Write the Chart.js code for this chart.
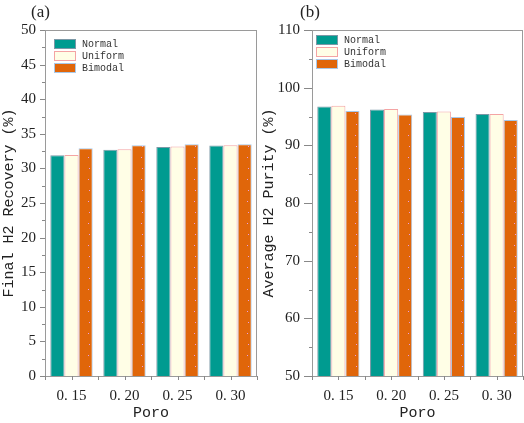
<!DOCTYPE html>
<html>
<head>
<meta charset="utf-8">
<script src="https://cdn.jsdelivr.net/npm/chart.js@4.4.1/dist/chart.umd.min.js"></script>
<style>
  html, body { margin: 0; padding: 0; background: #fff; }
  #wrap { position: relative; width: 524px; height: 423px; overflow: hidden; }
  .panel { position: absolute; top: 0; height: 423px; }
  .tag { position: absolute; top: 2px; font: 17px "Liberation Serif", serif; color: #222; }
</style>
</head>
<body>
<div id="wrap">
  <div class="panel" style="left:0;width:262px"><canvas id="chartA" width="262" height="423"></canvas></div>
  <div class="panel" style="left:260px;width:264px"><canvas id="chartB" width="264" height="423"></canvas></div>
  <div class="tag" style="left:31px">(a)</div>
  <div class="tag" style="left:300px">(b)</div>
</div>
<script>
// categories (porosity)
const poroLabels = ['0. 15', '0. 20', '0. 25', '0. 30'];
const seriesNames = ['Normal', 'Uniform', 'Bimodal'];

// (a) final H2 recovery, %
const recNormal  = [31.9, 32.7, 33.1, 33.3];
const recUniform = [31.95, 32.75, 33.15, 33.35];
const recBimodal = [32.9, 33.35, 33.5, 33.5];

// (b) average H2 purity, %
const purNormal  = [96.75, 96.2, 95.8, 95.45];
const purUniform = [96.85, 96.3, 95.85, 95.45];
const purBimodal = [95.95, 95.35, 94.9, 94.4];

const TEAL = '#009b90', CREAM = '#fffee6', ORANGE = '#e0660a';

// orange fill with sparse little pink dots
function dotPattern(dotX) {
  const c = document.createElement('canvas');
  c.width = 53; c.height = 22;
  const g = c.getContext('2d');
  g.fillStyle = ORANGE; g.fillRect(0, 0, 53, 22);
  g.fillStyle = '#e9a0e6';
  g.fillRect(dotX, 3, 1, 1);
  g.fillRect(dotX + 1, 14, 1, 1);
  return g.createPattern(c, 'repeat');
}

// box frame, outward ticks with minors, and the inset legend
const framePlugin = {
  id: 'frame',
  afterDatasetsDraw(chart, args, opts) {
    const { ctx, chartArea: a, scales: { x, y } } = chart;
    ctx.save();
    ctx.strokeStyle = '#9a9a9a';
    ctx.lineWidth = 1;
    ctx.strokeRect(Math.round(a.left) + 0.5, Math.round(a.top) + 0.5,
      Math.round(a.right - a.left) - 1, Math.round(a.bottom - a.top));
    ctx.strokeStyle = '#888';
    ctx.beginPath();
    for (let v = y.min; v <= y.max + 1e-9; v += opts.minor) {
      const py = Math.round(y.getPixelForValue(v)) + 0.5;
      const r = v / opts.major;
      const len = Math.abs(r - Math.round(r)) < 1e-6 ? opts.majorLen : 3;
      ctx.moveTo(a.left - len, py); ctx.lineTo(a.left, py);
    }
    const half = (a.right - a.left) / poroLabels.length / 2;
    poroLabels.forEach((_, i) => {
      const cx = x.getPixelForValue(i);
      [cx - half, cx, cx + half].forEach(px => {
        const p = Math.round(px) + 0.5;
        ctx.moveTo(p, a.bottom); ctx.lineTo(p, a.bottom + 4);
      });
    });
    ctx.stroke();

    // legend
    ctx.font = '10px "Liberation Mono", monospace';
    ctx.textBaseline = 'middle';
    chart.data.datasets.forEach((ds, i) => {
      const bx = a.left + opts.legX, by = a.top + opts.legY + i * 12;
      ctx.fillStyle = opts.legFill[i];
      ctx.fillRect(bx, by, 22, 10);
      ctx.strokeStyle = ds.borderColor;
      ctx.strokeRect(bx + 0.5, by + 0.5, 21, 9);
      ctx.fillStyle = '#333';
      ctx.fillText(ds.label, bx + 28, by + 5.5);
    });
    ctx.restore();
  }
};

function makeChart(id, values, yMin, yMax, step, minor, yTitle, yWidth, padRight, tickPad, majorLen, legX, legY, dotX) {
  const fills = [TEAL, CREAM, dotPattern(dotX)];
  const borders = ['#7b98a6', '#f4a4a4', '#a9c8e8'];
  return new Chart(document.getElementById(id), {
    type: 'bar',
    data: {
      labels: poroLabels,
      datasets: values.map((v, i) => ({
        label: seriesNames[i],
        data: v,
        backgroundColor: fills[i],
        borderColor: borders[i],
        borderWidth: 1,
        categoryPercentage: 0.8,
        barPercentage: 1.0
      }))
    },
    options: {
      responsive: false,
      animation: false,
      layout: { padding: { top: 30, right: padRight, left: 0, bottom: 0 } },
      plugins: {
        legend: { display: false },
        tooltip: { enabled: false },
        frame: { major: step, minor: minor, majorLen: majorLen, legX: legX, legY: legY,
                 legFill: [TEAL, CREAM, ORANGE] }
      },
      scales: {
        x: {
          grid: { display: false, drawTicks: false },
          border: { display: false },
          ticks: { color: '#222', padding: 11, font: { family: 'Liberation Serif', size: 15 } },
          title: { display: true, text: 'Poro', color: '#222', padding: { top: 0, bottom: 1 },
                   font: { family: 'Liberation Mono', size: 15 } },
          afterFit: s => { s.height = 47; }
        },
        y: {
          min: yMin, max: yMax,
          grid: { display: false, drawTicks: false },
          border: { display: false },
          ticks: { stepSize: step, color: '#222', padding: tickPad, font: { family: 'Liberation Serif', size: 15 } },
          title: { display: true, text: yTitle, color: '#222', padding: 0,
                   font: { family: 'Liberation Mono', size: 15 } },
          afterFit: s => { s.width = yWidth; }
        }
      }
    },
    plugins: [framePlugin]
  });
}

makeChart('chartA', [recNormal, recUniform, recBimodal], 0, 50, 5, 2.5,
  'Final H2 Recovery (%)', 45, 5, 9, 5, 9, 9, 35);
makeChart('chartB', [purNormal, purUniform, purBimodal], 50, 110, 10, 5,
  'Average H2 Purity (%)', 52, 1, 12, 8, 4, 5, 42);
</script>
</body>
</html>
